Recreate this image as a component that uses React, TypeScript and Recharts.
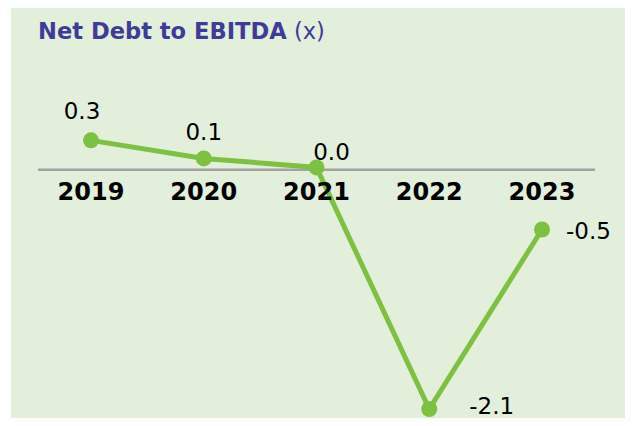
import { LineChart, Line, XAxis, YAxis, ReferenceLine, ReferenceDot, LabelList } from 'recharts'

const years = ['2019', '2020', '2021', '2022', '2023']
const netDebtToEbitda = [0.26, 0.1, 0.02, -2.12, -0.53]

const chartData = years.map((year, i) => ({ year, value: netDebtToEbitda[i] }))

const FONT = '"DejaVu Sans", Verdana, sans-serif'
const GREEN = '#7cc142'

// manual label placement, like the hand-placed labels in the original
const labelPlacement = [
  { dx: -9, dy: -21, anchor: 'middle' },
  { dx: 0, dy: -18, anchor: 'middle' },
  { dx: 15, dy: -7, anchor: 'middle' },
  { dx: 40, dy: 5, anchor: 'start' },
  { dx: 24, dy: 9, anchor: 'start' },
]

const ValueLabel = (props: any) => {
  const { x, y, value, index } = props
  const p = labelPlacement[index] ?? labelPlacement[0]
  return (
    <text x={x + p.dx} y={y + p.dy} textAnchor={p.anchor} fontFamily={FONT} fontSize={23} fill="#000">
      {Number(value).toFixed(1)}
    </text>
  )
}

const App = () => {
  return (
    <div style={{ position: 'relative', width: 636, height: 426, margin: -8, overflow: 'hidden' }}>
      <div style={{ position: 'absolute', left: 11, top: 5, width: 614, height: 421, background: '#e2efda' }} />
      <div
        style={{
          position: 'absolute',
          left: 38,
          top: 20,
          fontFamily: FONT,
          fontSize: 22.6,
          lineHeight: 1,
          color: '#3d3d99',
          whiteSpace: 'nowrap',
        }}
      >
        <span style={{ fontWeight: 'bold' }}>Net Debt to EBITDA</span> (x)
      </div>
      <div style={{ position: 'absolute', left: 0, top: 0 }}>
        <LineChart width={636} height={426} data={chartData} margin={{ top: 102, right: 41, bottom: 8, left: 38 }}>
          <XAxis dataKey="year" hide padding={{ left: 53, right: 53 }} />
          <YAxis hide domain={[-2.2, 0.6]} />
          <ReferenceLine y={0} stroke="#a3a3a3" strokeWidth={2.5} />
          {years.map((year) => (
            <ReferenceDot
              key={year}
              x={year}
              y={0}
              r={1}
              fill="none"
              stroke="none"
              label={{
                value: year,
                position: 'bottom',
                offset: 12,
                fontFamily: FONT,
                fontSize: 24,
                fontWeight: 'bold',
                fill: '#000',
              }}
            />
          ))}
          <Line
            type="linear"
            dataKey="value"
            stroke={GREEN}
            strokeWidth={5}
            dot={{ r: 8, fill: GREEN, stroke: GREEN, strokeWidth: 0 }}
            isAnimationActive={false}
          >
            <LabelList dataKey="value" content={ValueLabel} />
          </Line>
        </LineChart>
      </div>
    </div>
  )
}

export default App
